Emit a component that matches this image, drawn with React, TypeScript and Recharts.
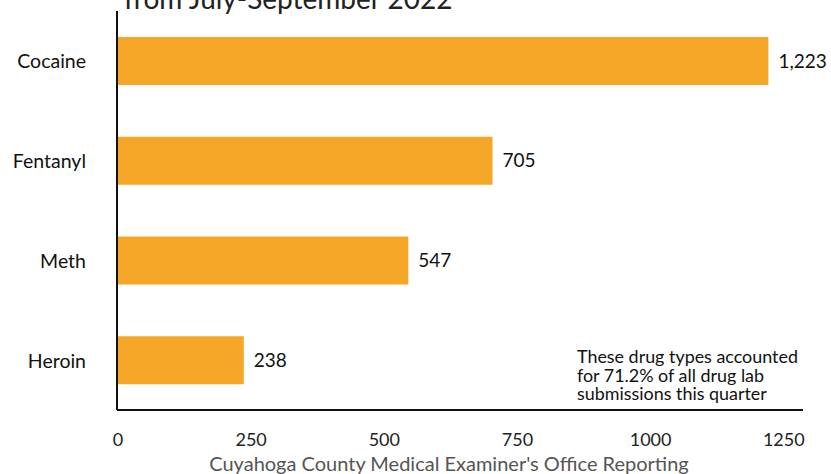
import React from "react";
import { BarChart, Bar, XAxis, YAxis, LabelList } from "recharts";

const drugs = ["Cocaine", "Fentanyl", "Meth", "Heroin"];
const submissions = [1223, 705, 547, 238];
const xTicks = [0, 250, 500, 750, 1000, 1250];

const ORANGE = "#F5A626";
const FONT = "Lato, 'Open Sans', sans-serif";

const data = drugs.map((drug, i) => ({ drug, count: submissions[i] }));

const YTick = ({ x, y, payload }: any) => (
    <text x={x - 23} y={y} textAnchor="end" dominantBaseline="central" fontSize={19.5} fill="#111" fontFamily={FONT}>
        {payload.value}
    </text>
);

const XTick = ({ x, y, payload }: any) => (
    <text x={x + 1} y={y + 21} textAnchor="middle" dominantBaseline="central" fontSize={18} fill="#222" fontFamily={FONT}>
        {payload.value}
    </text>
);

export default function App() {
    return (
        <div style={{ position: "fixed", left: 0, top: 0, width: 831, height: 474, background: "#fff", overflow: "hidden" }}>
            <div
                style={{
                    position: "absolute",
                    left: 124,
                    top: -19,
                    fontFamily: FONT,
                    fontSize: 28,
                    color: "#222",
                    whiteSpace: "nowrap",
                }}
            >
                from July-September 2022
            </div>
            <BarChart
                width={831}
                height={474}
                data={data}
                layout="vertical"
                margin={{ top: 11, right: 28, bottom: 0, left: 0 }}
            >
                <XAxis
                    type="number"
                    domain={[0, 1288]}
                    ticks={xTicks}
                    interval={0}
                    height={64}
                    tickLine={false}
                    axisLine={{ stroke: "#111", strokeWidth: 2 }}
                    tick={<XTick />}
                />
                <YAxis
                    type="category"
                    dataKey="drug"
                    width={117}
                    tickLine={false}
                    axisLine={{ stroke: "#111", strokeWidth: 2 }}
                    tick={<YTick />}
                />
                <Bar dataKey="count" fill={ORANGE} barSize={48} isAnimationActive={false}>
                    <LabelList
                        dataKey="count"
                        position="right"
                        offset={10}
                        formatter={(v: any) => Number(v).toLocaleString("en-US")}
                        style={{ fontSize: 19, fill: "#111", fontFamily: FONT }}
                    />
                </Bar>
            </BarChart>
            <div
                style={{
                    position: "absolute",
                    left: 577,
                    top: 347,
                    fontFamily: FONT,
                    fontSize: 17.9,
                    lineHeight: "18.5px",
                    color: "#111",
                    whiteSpace: "nowrap",
                }}
            >
                These drug types accounted
                <br />
                for 71.2% of all drug lab
                <br />
                submissions this quarter
            </div>
            <div
                style={{
                    position: "absolute",
                    left: 0,
                    width: 898,
                    top: 451,
                    textAlign: "center",
                    fontFamily: FONT,
                    fontSize: 20,
                    color: "#555",
                    whiteSpace: "nowrap",
                }}
            >
                Cuyahoga County Medical Examiner's Office Reporting
            </div>
        </div>
    );
}
